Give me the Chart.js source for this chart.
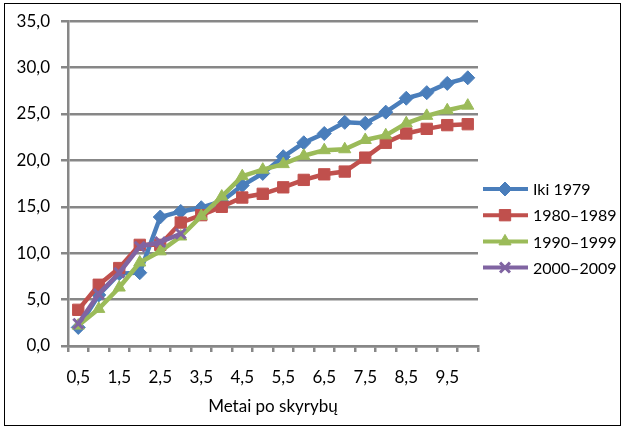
<!DOCTYPE html>
<html>
<head>
<meta charset="utf-8">
<script src="https://cdn.jsdelivr.net/npm/chart.js@4.4.0/dist/chart.umd.min.js"></script>
<style>
  html, body { margin: 0; padding: 0; background: #fff; }
  #wrap { position: relative; width: 623px; height: 427px; }
</style>
</head>
<body>
<div id="wrap"><canvas id="chart"></canvas></div>
<script>
// Metai po skyrybų (x kategorijos)
const years = ['0,5', '1', '1,5', '2', '2,5', '3', '3,5', '4', '4,5', '5',
               '5,5', '6', '6,5', '7', '7,5', '8', '8,5', '9', '9,5', '10'];

// series values
const before1979 = [2.0, 5.5, 7.8, 7.9, 13.9, 14.5, 14.9, 15.6, 17.3, 18.6,
                    20.4, 21.9, 22.9, 24.1, 24.0, 25.2, 26.7, 27.3, 28.3, 28.9];
const s1980 = [3.9, 6.6, 8.4, 10.9, 10.9, 13.3, 14.1, 15.0, 16.0, 16.4,
               17.1, 17.9, 18.5, 18.8, 20.3, 21.9, 22.9, 23.4, 23.8, 23.9];
const s1990 = [2.2, 4.0, 6.3, 9.0, 10.2, 11.8, 14.0, 16.1, 18.3, 19.0,
               19.6, 20.5, 21.1, 21.2, 22.2, 22.7, 24.0, 24.8, 25.4, 25.9];
const s2000 = [2.4, 5.6, 7.9, 10.7, 11.2, 12.1];

const seriesNames = ['Iki 1979', '1980–1989', '1990–1999', '2000–2009'];
const yTicks = [0, 5, 10, 15, 20, 25, 30, 35];

const GRID = '#878787';
const FONT_SIZE = 17;
Chart.defaults.font.family = 'Lato, "Open Sans", sans-serif';
Chart.defaults.font.size = FONT_SIZE;
Chart.defaults.color = '#000';

// order: later series drawn on top, like the original
function makeSet(label, data, color, style, radius, bw, order) {
    return {
        label: label,
        data: data,
        order: order,
        borderColor: color,
        backgroundColor: color,
        borderWidth: 4.5,
        pointStyle: style,
        pointRadius: radius,
        pointHoverRadius: radius,
        pointBorderWidth: bw,
        pointBackgroundColor: color,
        pointBorderColor: color,
        tension: 0,
        fill: false
    };
}

// legend drawn by hand: line + marker + text
const legendBox = {
    id: 'legendBox',
    afterDraw(chart) {
        const ctx = chart.ctx;
        chart.data.datasets.forEach((ds, i) => {
            const y = 189 + i * 26.2;
            ctx.save();
            ctx.strokeStyle = ds.borderColor;
            ctx.lineWidth = 4;
            ctx.beginPath();
            ctx.moveTo(483, y);
            ctx.lineTo(528, y);
            ctx.stroke();
            ctx.fillStyle = ds.pointBackgroundColor;
            ctx.lineWidth = ds.pointBorderWidth;
            Chart.helpers.drawPoint(ctx, {
                pointStyle: ds.pointStyle,
                radius: ds.pointRadius,
                borderWidth: ds.pointBorderWidth,
                rotation: 0
            }, 505, y);
            ctx.fillStyle = '#000';
            ctx.font = '16px ' + Chart.defaults.font.family;
            ctx.textBaseline = 'middle';
            ctx.textAlign = 'left';
            ctx.fillText(ds.label, 533, y + 1);
            ctx.restore();
        });
    }
};

// outer frame
const frame = {
    id: 'frame',
    beforeDraw(chart) {
        const ctx = chart.ctx;
        ctx.save();
        ctx.fillStyle = '#fff';
        ctx.fillRect(0, 0, chart.width, chart.height);
        ctx.strokeStyle = '#000';
        ctx.lineWidth = 1;
        ctx.strokeRect(4.5, 3.5, 616, 422);
        ctx.restore();
    }
};

const ctx = document.getElementById('chart').getContext('2d');
new Chart(ctx, {
    type: 'line',
    data: {
        labels: years,
        datasets: [
            makeSet(seriesNames[0], before1979, '#4a7ebb', 'rectRot', 7, 1, 3),
            makeSet(seriesNames[1], s1980, '#c0504d', 'rect', 8, 1, 2),
            makeSet(seriesNames[2], s1990, '#9bbb59', 'triangle', 7, 1, 1),
            makeSet(seriesNames[3], s2000, '#8064a2', 'crossRot', 7, 3, 0)
        ]
    },
    options: {
        responsive: true,
        maintainAspectRatio: false,
        animation: false,
        layout: { padding: { top: 20, right: 145, left: 0, bottom: 0 } },
        plugins: {
            legend: { display: false },
            tooltip: { enabled: false }
        },
        scales: {
            x: {
                offset: true,
                grid: {
                    display: true,
                    drawOnChartArea: false,
                    drawTicks: true,
                    tickLength: 6,
                    offset: true,
                    color: GRID,
                    lineWidth: 2.5
                },
                border: { color: GRID, width: 2.5 },
                ticks: {
                    autoSkip: false,
                    maxRotation: 0,
                    padding: 15,
                    callback: function (val, idx) {
                        return idx % 2 === 0 ? years[idx] : '';
                    }
                },
                title: {
                    display: true,
                    text: 'Metai po skyrybų',
                    font: { size: FONT_SIZE },
                    padding: { top: 0, bottom: 10 }
                },
                afterFit: function (scale) { scale.height = 81; }
            },
            y: {
                min: 0,
                max: 35,
                afterBuildTicks: function (scale) {
                    scale.ticks = yTicks.map(v => ({ value: v }));
                },
                grid: {
                    color: GRID,
                    lineWidth: 2.5,
                    drawTicks: true,
                    tickLength: 7
                },
                border: { color: GRID, width: 2.5 },
                ticks: {
                    padding: 11,
                    callback: function (v) { return v.toFixed(1).replace('.', ','); }
                },
                afterFit: function (scale) { scale.width = 68; }
            }
        }
    },
    plugins: [frame, legendBox]
});
</script>
</body>
</html>
